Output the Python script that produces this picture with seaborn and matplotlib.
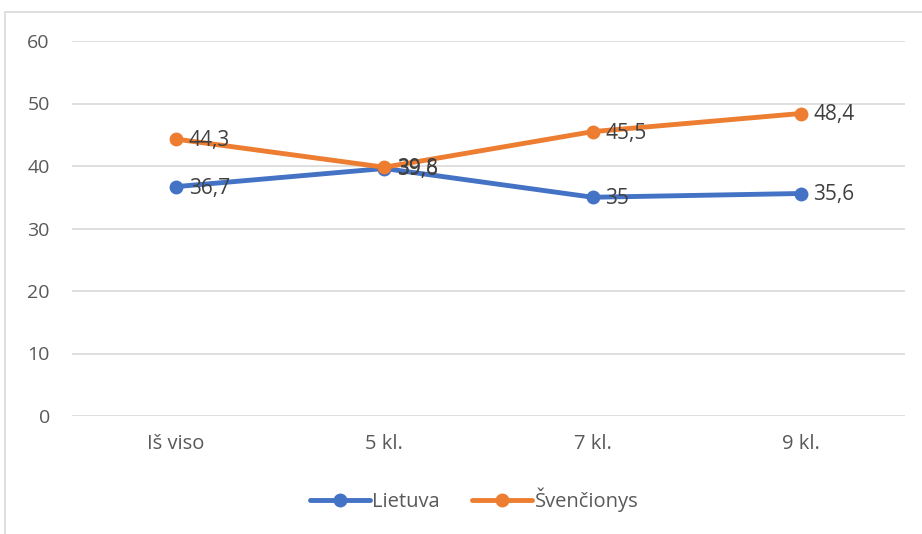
import matplotlib
matplotlib.use("Agg")
import matplotlib.pyplot as plt
import seaborn as sns
import pandas as pd
from matplotlib.patches import Rectangle

categories = ["Iš viso", "5 kl.", "7 kl.", "9 kl."]
lietuva = [36.7, 39.6, 35.0, 35.6]
svencionys = [44.3, 39.8, 45.5, 48.4]
series_names = ["Lietuva", "Švenčionys"]
colors = ["#4472C4", "#ED7D31"]
y_ticks = [0, 10, 20, 30, 40, 50, 60]

df = pd.DataFrame({
    "Klasė": categories * 2,
    "Reikšmė": lietuva + svencionys,
    "Serija": [series_names[0]] * len(categories) + [series_names[1]] * len(categories),
})

sns.set_theme(style="white")
plt.rcParams["font.family"] = ["Open Sans", "DejaVu Sans"]

W, H = 922, 534
fig = plt.figure(figsize=(W / 100, H / 100), dpi=100)
ax = fig.add_axes([72 / W, 1 - 416 / H, (905 - 72) / W, (416 - 41) / H])

# outer chart frame
fig.patches.append(Rectangle((5 / W, -0.05), 1.2, (534 - 12) / H + 0.05,
                             transform=fig.transFigure, fill=False,
                             edgecolor="#D9D9D9", linewidth=1.2))

sns.lineplot(data=df, x="Klasė", y="Reikšmė", hue="Serija", palette=colors,
             marker="o", markersize=10, markeredgewidth=0, linewidth=3.5,
             sort=False, ax=ax, legend=True)

ax.set_xlim(-0.5, len(categories) - 0.5)
ax.set_ylim(0, 60)
ax.set_yticks(y_ticks)
ax.set_yticklabels([str(v) for v in y_ticks])
ax.grid(axis="y", color="#D9D9D9", linewidth=1.2)
ax.set_axisbelow(True)
for s in ax.spines.values():
    s.set_visible(False)
ax.set_xlabel("")
ax.set_ylabel("")
ax.tick_params(axis="y", colors="#595959", labelsize=14, length=0, pad=16)
ax.tick_params(axis="x", colors="#595959", labelsize=14.5, length=0, pad=13)


def fmt(v):
    s = f"{v:.1f}".replace(".", ",")
    return s[:-2] if s.endswith(",0") else s


for vals in (lietuva, svencionys):
    for i, v in enumerate(vals):
        ax.annotate(fmt(v), (i, v), xytext=(9, -1), textcoords="offset points",
                    va="center", ha="left", fontsize=15, color="#404040")

handles, labels = ax.get_legend_handles_labels()
ax.legend(handles, labels, loc="center", bbox_to_anchor=(474 / W, (534 - 500) / H),
          bbox_transform=fig.transFigure, ncol=2, frameon=False, fontsize=14.5,
          handlelength=3.0, handletextpad=0.1, columnspacing=1.6,
          labelcolor="#595959")

fig.savefig("out.png", dpi=100)
